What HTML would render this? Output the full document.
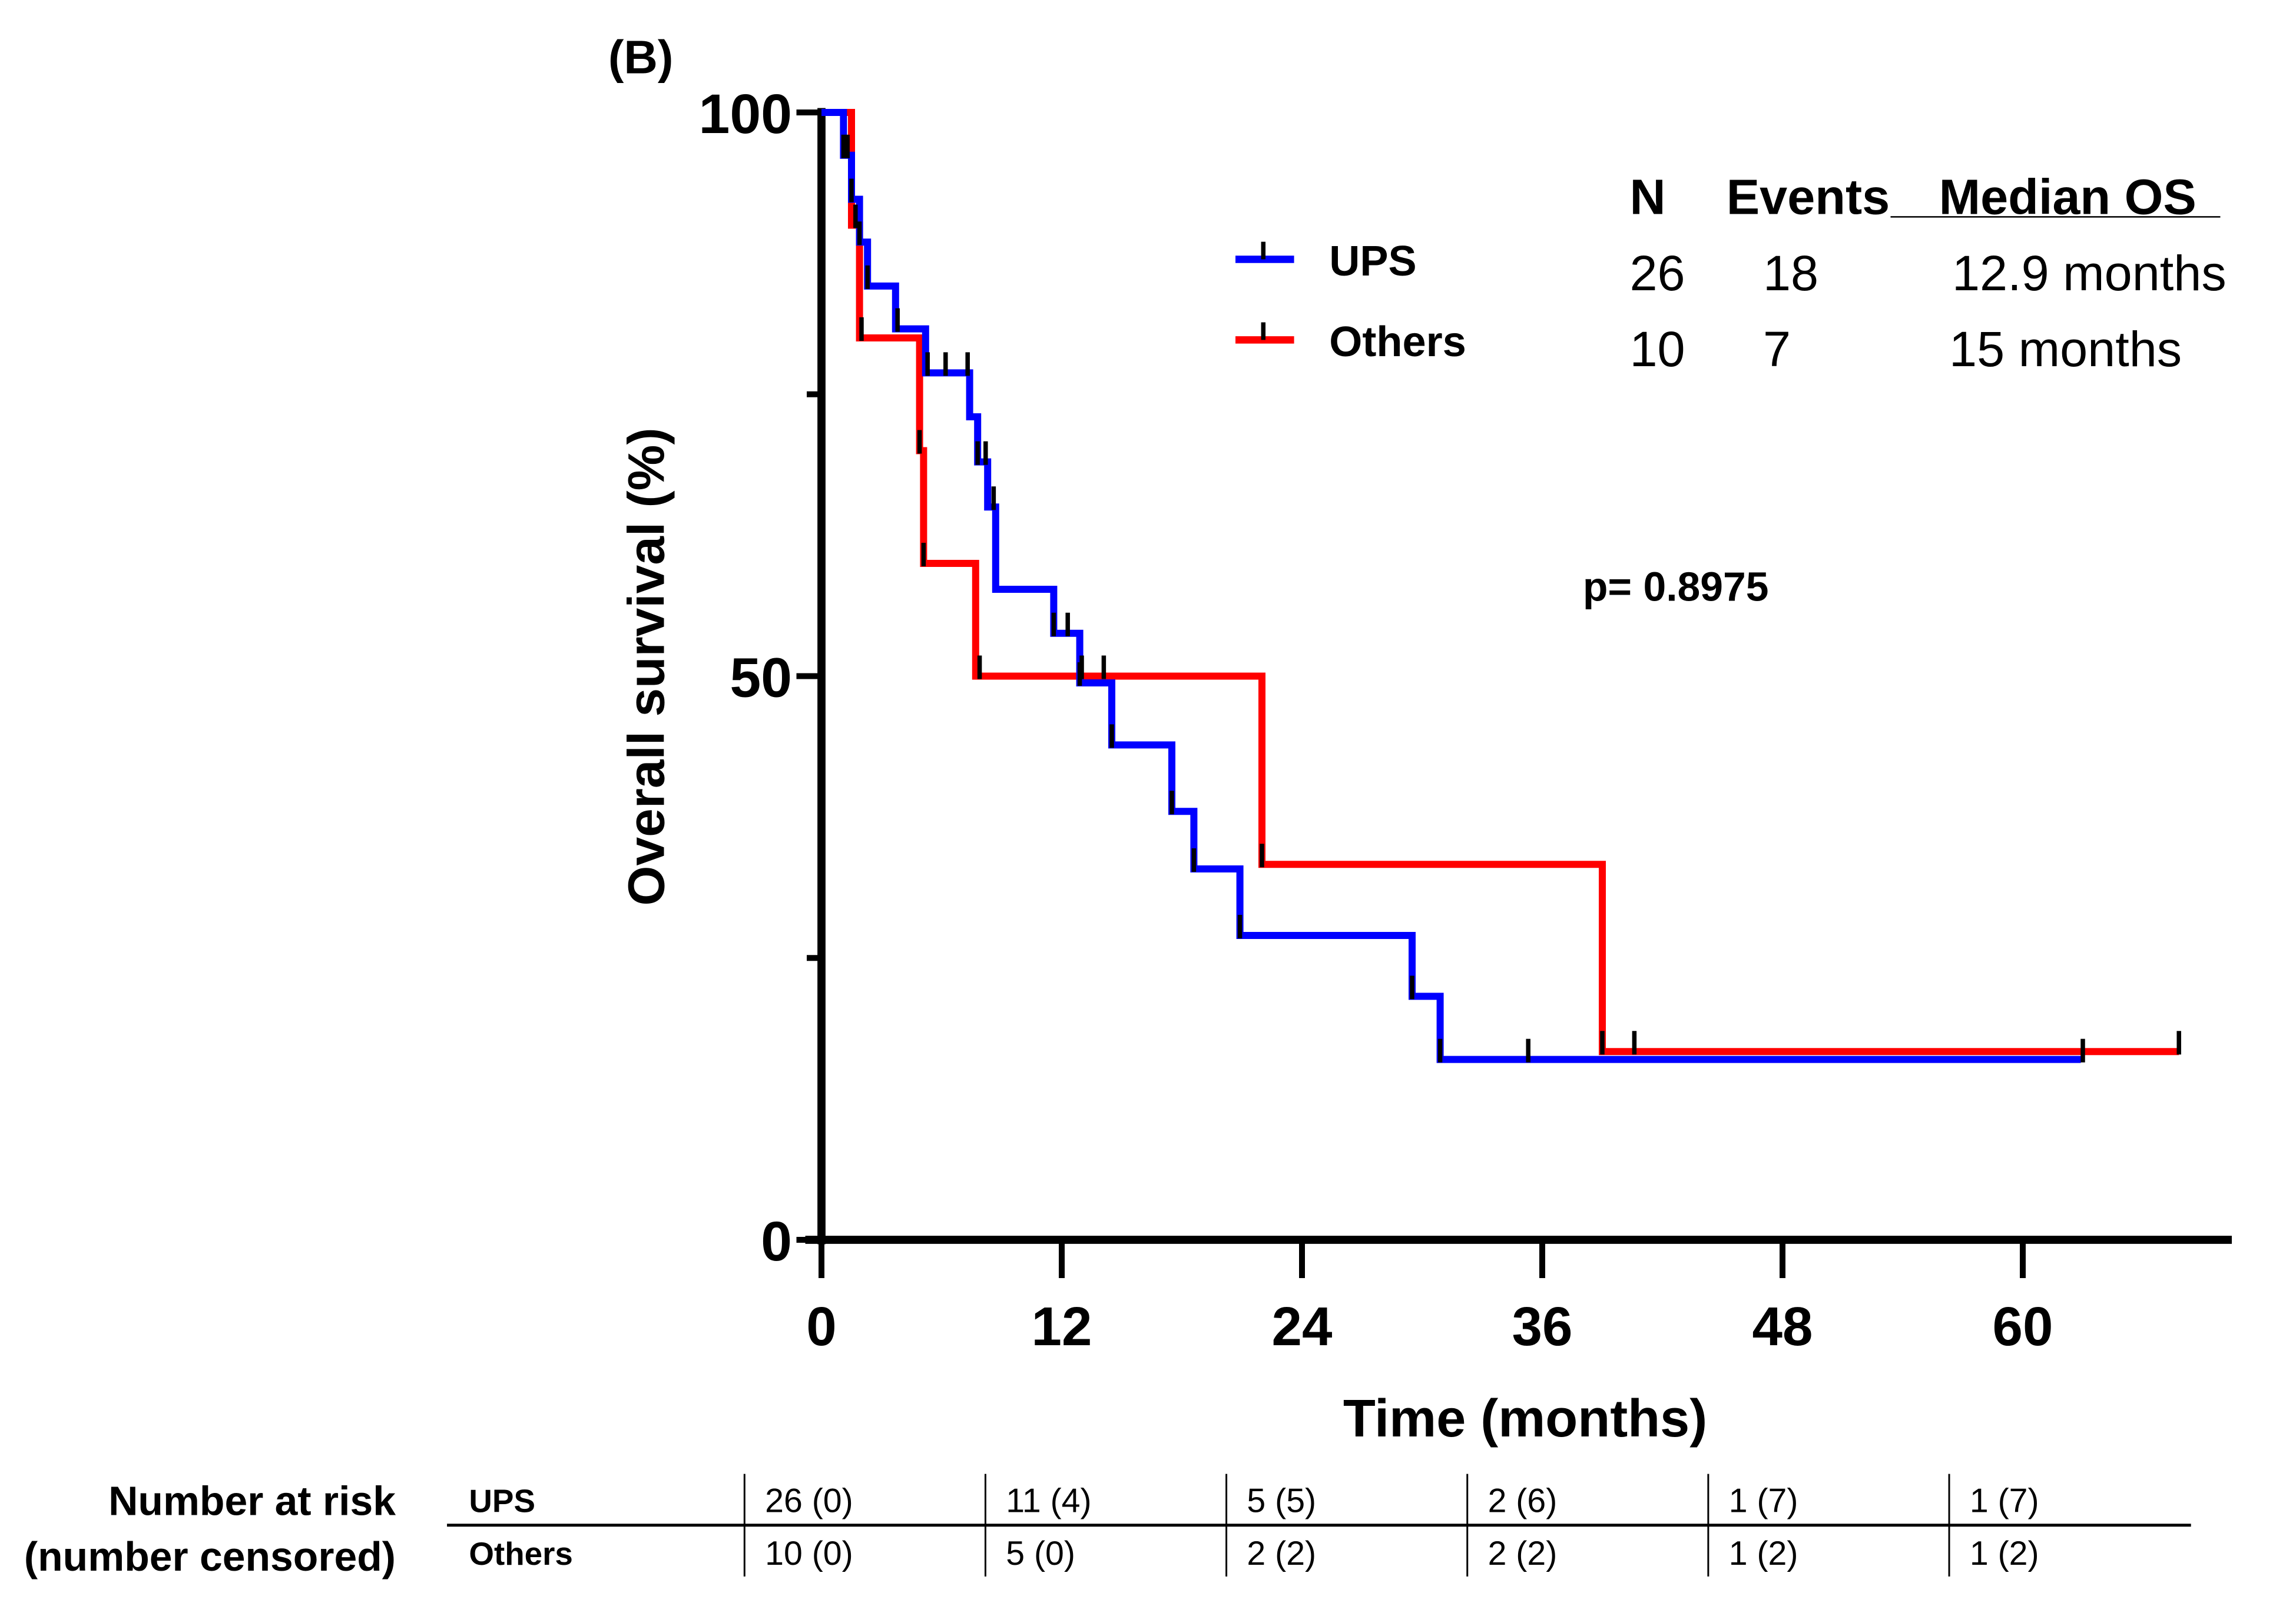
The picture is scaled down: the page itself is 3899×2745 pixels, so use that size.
<!DOCTYPE html>
<html><head><meta charset="utf-8"><style>
html,body{margin:0;padding:0;background:#fff;}
svg{display:block;font-family:"Liberation Sans",sans-serif;}
</style></head><body>
<svg id="chart" width="3899" height="2745" viewBox="0 0 1559.6 1098" xmlns="http://www.w3.org/2000/svg">
<g id="axes"></g>
<g id="curves"></g>
<g transform="scale(0.9955)">
<text x="415" y="50" font-size="32" font-weight="bold">(B)</text>
<g>
<line x1="843" y1="177" x2="883" y2="177" stroke="#0000ff" stroke-width="5"/>
<line x1="862" y1="165" x2="862" y2="177" stroke="#000" stroke-width="3"/>
<text x="907" y="188" font-size="29" font-weight="bold">UPS</text>
<line x1="843" y1="232" x2="883" y2="232" stroke="#ff0000" stroke-width="5"/>
<line x1="862" y1="220" x2="862" y2="232" stroke="#000" stroke-width="3"/>
<text x="907" y="243" font-size="29" font-weight="bold">Others</text>
</g>
<g font-size="34">
<text x="1112" y="146" font-weight="bold">N</text>
<text x="1178" y="146" font-weight="bold">Events</text>
<text x="1323" y="146" font-weight="bold">Median OS</text>
<line x1="1290" y1="148" x2="1515" y2="148" stroke="#000" stroke-width="1"/>
<text x="1112" y="198">26</text>
<text x="1203" y="198">18</text>
<text x="1332" y="198">12.9 months</text>
<text x="1112" y="250">10</text>
<text x="1203" y="250">7</text>
<text x="1330" y="250">15 months</text>
</g>
<text x="1080" y="410" font-size="28" font-weight="bold">p= 0.8975</text>
<g>
<text x="270" y="1034" text-anchor="end" font-size="28" font-weight="bold">Number at risk</text>
<text x="270" y="1072" text-anchor="end" font-size="28" font-weight="bold">(number censored)</text>
<text x="320" y="1032" font-size="22" font-weight="bold">UPS</text>
<text x="320" y="1068" font-size="22" font-weight="bold">Others</text>
<line x1="305" y1="1041" x2="1495" y2="1041" stroke="#000" stroke-width="2"/>
<g id="riskcells"></g>
</g>
</g>
</svg>
<script>
const xTicks=[0,12,24,36,48,60];
const yTicks=[0,50,100];
const yMinor=[25,75];
const upsT=[0,1.1,1.5,1.9,2.3,3.7,5.2,7.4,7.8,8.3,8.7,11.6,12.9,14.5,17.5,18.6,20.9,29.5,30.9,62.9];
const upsS=[100,96.2,92.3,88.5,84.6,80.8,76.9,73,69,65,57.7,53.8,49.4,43.9,38,32.9,27,21.6,16,16];
const othT=[0,1.5,1.9,4.9,5.1,7.7,22.0,39.0,67.8];
const othS=[100,90,80,70,60,50,33.3,16.7,16.7];
const upsCensT=[1.1,1.3,1.5,1.9,2.3,3.8,5.3,6.2,7.3,7.8,8.2,8.6,11.6,12.3,12.9,14.5,17.5,18.6,20.9,29.5,30.9,35.3,63];
const othCensT=[1.7,2.0,4.9,5.1,7.9,13.0,14.1,22.0,39.0,40.6,67.8];
const riskCols=[0,12,24,36,48,60];
const riskUps=["26 (0)","11 (4)","5 (5)","2 (6)","1 (7)","1 (7)"];
const riskOth=["10 (0)","5 (0)","2 (2)","2 (2)","1 (2)","1 (2)"];

const NS="http://www.w3.org/2000/svg";
const X0=558,X1=1374,Y100=76.4,Y0=842.4;
const sx=t=>X0+t*(X1-X0)/60;
const sy=p=>Y0-p*(Y0-Y100)/100;
function mk(tag,attrs,parent){const e=document.createElementNS(NS,tag);for(const k in attrs)e.setAttribute(k,attrs[k]);parent.appendChild(e);return e;}
const axes=document.getElementById('axes');
let l=mk('line',{x1:X0,y1:Y100-3,x2:X0,y2:Y0+3,stroke:'#000','stroke-width':5.5},axes);


l=mk('line',{x1:X0-11,y1:Y0,x2:1516,y2:Y0,stroke:'#000','stroke-width':5.5},axes);


yTicks.forEach(v=>{
 const t=mk('line',{x1:X0-17,y1:sy(v),x2:X0,y2:sy(v),stroke:'#000','stroke-width':4},axes);
 
 
 const tx=mk('text',{x:X0-20,y:sy(v)+14,'text-anchor':'end','font-size':38,'font-weight':'bold'},axes);
 tx.textContent=v;
 
 
});
yMinor.forEach(v=>{
 const t=mk('line',{x1:X0-10,y1:sy(v),x2:X0,y2:sy(v),stroke:'#000','stroke-width':4},axes);
 
 
});
xTicks.forEach(v=>{
 const t=mk('line',{x1:sx(v),y1:Y0,x2:sx(v),y2:Y0+26,stroke:'#000','stroke-width':4},axes);
 
 
 const tx=mk('text',{x:sx(v),y:914,'text-anchor':'middle','font-size':37,'font-weight':'bold'},axes);
 tx.textContent=v;
 
 
});
let tt=mk('text',{x:1036,y:976,'text-anchor':'middle','font-size':36,'font-weight':'bold'},axes);
tt.textContent='Time (months)';


tt=mk('text',{x:0,y:0,'text-anchor':'middle','font-size':35,'font-weight':'bold',transform:'translate(451,453) rotate(-90)'},axes);
tt.textContent='Overall survival (%)';



const curves=document.getElementById('curves');
function stepAt(T,S,t){let s=S[0];for(let i=0;i<T.length;i++){if(T[i]<=t)s=S[i];}return s;}
function drawCurve(T,S,col,name){
 let d='M'+sx(T[0])+','+sy(S[0]);
 for(let i=1;i<T.length;i++){d+=' H'+sx(T[i])+' V'+sy(S[i]);}
 const p=mk('path',{d:d,fill:'none',stroke:col,'stroke-width':4.8,'stroke-linejoin':'miter'},curves);
 
 
}
drawCurve(othT,othS,'#ff0000','others-curve');
drawCurve(upsT,upsS,'#0000ff','ups-curve');
function drawCens(C,T,S,name){
 C.forEach(t=>{
  const y=sy(stepAt(T,S,t));
  const c=mk('line',{x1:sx(t),y1:y-14,x2:sx(t),y2:y+2,stroke:'#000','stroke-width':3},curves);
  
  
 });
}
drawCens(upsCensT,upsT,upsS,'ups-censor-tick');
drawCens(othCensT,othT,othS,'others-censor-tick');

const rc=document.getElementById('riskcells');
riskCols.forEach((m,i)=>{
 const x=508+i*164.4;
 const v=mk('line',{x1:x,y1:1006,x2:x,y2:1076,stroke:'#000','stroke-width':1.2},rc);
 
 
 let a=mk('text',{x:x+14,y:1032,'font-size':23},rc);
 a.textContent=riskUps[i];
 
 
 a=mk('text',{x:x+14,y:1068,'font-size':23},rc);
 a.textContent=riskOth[i];
 
 
});
</script>
</body></html>
